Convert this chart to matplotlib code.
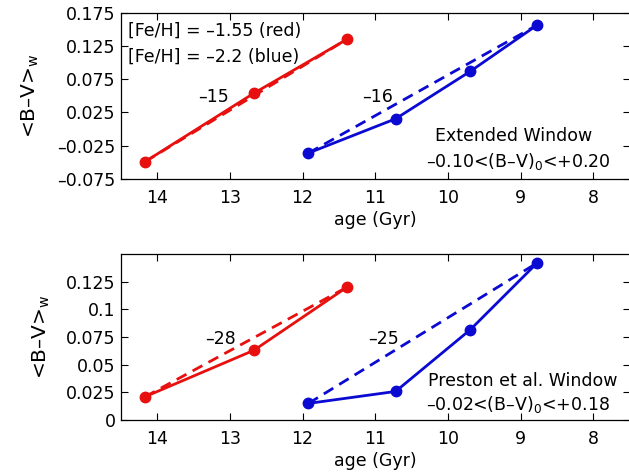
import matplotlib
matplotlib.use('Agg')
import matplotlib.pyplot as plt

# ---- data ----
age_red = [14.17, 12.67, 11.39]
age_blue = [11.92, 10.72, 9.69, 8.77]

ext_red = [-0.049, 0.054, 0.135]
ext_blue = [-0.036, 0.0155, 0.087, 0.1565]

pre_red = [0.021, 0.063, 0.120]
pre_blue = [0.015, 0.0258, 0.0817, 0.142]

slopes_ext = ['–15', '–16']
slopes_pre = ['–28', '–25']

xticks = [14, 13, 12, 11, 10, 9, 8]
ext_yticks = [-0.075, -0.025, 0.025, 0.075, 0.125, 0.175]
ext_yticklabels = ['–0.075', '–0.025', '0.025', '0.075', '0.125', '0.175']
pre_yticks = [0, 0.025, 0.05, 0.075, 0.1, 0.125]
pre_yticklabels = ['0', '0.025', '0.05', '0.075', '0.1', '0.125']

RED = '#e8100f'
BLUE = '#0a0ad2'

plt.rcParams['font.family'] = ['DejaVu Sans']
plt.rcParams['font.size'] = 12.5
plt.rcParams['mathtext.default'] = 'regular'

W, H = 629, 472
fig = plt.figure(figsize=(W / 100, H / 100), dpi=100)

ax1 = fig.add_axes([121 / W, 1 - 179 / H, 508.5 / W, 166.3 / H])
ax2 = fig.add_axes([121 / W, 1 - 420 / H, 508.5 / W, 166.0 / H])


def style(ax, yticks, ylabels, ylim, lpad):
    ax.set_xlim(14.5, 7.5)
    ax.set_ylim(*ylim)
    ax.set_xticks(xticks)
    ax.set_xticklabels([str(t) for t in xticks])
    ax.set_yticks(yticks)
    ax.set_yticklabels(ylabels)
    ax.tick_params(direction='in', top=True, right=True, length=5, width=0.8,
                   labelsize=12.5)
    ax.tick_params(axis='x', pad=7)
    ax.tick_params(axis='y', pad=4)
    for s in ax.spines.values():
        s.set_linewidth(0.9)
    ax.set_xlabel('age (Gyr)', fontsize=12.5, labelpad=3)
    ax.set_ylabel('<B–V>$_{w}$', fontsize=14.5, labelpad=lpad)


def draw(ax, ya, yb):
    ax.plot(age_red, ya, '-', color=RED, lw=2.0, marker='o', ms=7.5, zorder=3)
    ax.plot([age_red[0], age_red[-1]], [ya[0], ya[-1]], '--', color=RED,
            lw=2.0, dashes=(4, 2.5), zorder=2)
    ax.plot(age_blue, yb, '-', color=BLUE, lw=2.0, marker='o', ms=7.5, zorder=3)
    ax.plot([age_blue[0], age_blue[-1]], [yb[0], yb[-1]], '--', color=BLUE,
            lw=2.0, dashes=(4, 2.5), zorder=2)


draw(ax1, ext_red, ext_blue)
style(ax1, ext_yticks, ext_yticklabels, (-0.075, 0.175), 12)
ax1.text(14.41, 0.148, '[Fe/H] = –1.55 (red)', ha='left', va='center')
ax1.text(14.41, 0.109, '[Fe/H] = –2.2 (blue)', ha='left', va='center')
ax1.text(13.22, 0.048, slopes_ext[0], ha='center', va='center')
ax1.text(10.97, 0.048, slopes_ext[1], ha='center', va='center')
ax1.text(9.10, -0.011, 'Extended Window', ha='center', va='center')
ax1.text(9.04, -0.0485, '–0.10<(B–V)$_0$<+0.20', ha='center', va='center')

draw(ax2, pre_red, pre_blue)
style(ax2, pre_yticks, pre_yticklabels, (0, 0.15), 10)
ax2.text(13.13, 0.073, slopes_pre[0], ha='center', va='center')
ax2.text(10.88, 0.073, slopes_pre[1], ha='center', va='center')
ax2.text(8.97, 0.0354, 'Preston et al. Window', ha='center', va='center')
ax2.text(9.04, 0.014, '–0.02<(B–V)$_0$<+0.18', ha='center', va='center')

fig.savefig('out.png', dpi=100)
